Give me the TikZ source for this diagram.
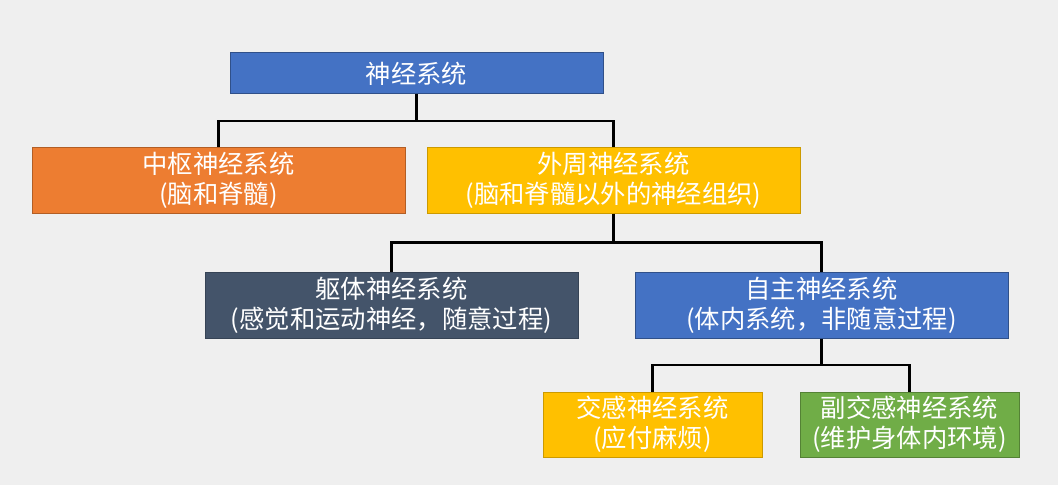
\documentclass[tikz,border=0pt]{standalone}
\usepackage{fontspec}
\setmainfont{Noto Sans CJK SC}
\usepackage{tikz}
\usetikzlibrary{positioning,calc}
\definecolor{paper}{HTML}{EFEFEF}
\definecolor{bl}{HTML}{4472C4}
\definecolor{or}{HTML}{ED7D31}
\definecolor{ye}{HTML}{FFC000}
\definecolor{sl}{HTML}{44546A}
\definecolor{gr}{HTML}{70AD47}
\tikzset{
  box/.style={draw, line width=0.75pt, align=center, inner sep=0pt, text=white, font=\fontsize{19}{22.5}\selectfont, minimum height=48.75pt},
  wide/.style={box, minimum width=279.75pt},
  narrow/.style={box, minimum width=164.25pt},
  link/.style={line width=1.6pt, black},
}

\begin{document}
\begin{tikzpicture}[x=0.75pt, y=-0.75pt]
  % page, in pixels of the slide
  \fill[paper] (0,0) rectangle (1058,485);
  \useasboundingbox (0,0) rectangle (1058,485);

  \node[wide, fill=bl, draw=bl!70!black, minimum height=30.75pt] (ns) at (416.5,73.5) {神经系统};
  \node[wide, fill=or, draw=or!75!black] (cns) at (218.5,180.5) {中枢神经系统\\(脑和脊髓)};
  \node[wide, fill=ye, draw=ye!80!black] (pns) at (613.5,180.5) {外周神经系统\\(脑和脊髓以外的神经组织)};
  \node[wide, fill=sl, draw=sl!80!black, minimum height=49.5pt] (som) at (391.5,305) {躯体神经系统\\(感觉和运动神经，随意过程)};
  \node[wide, fill=bl, draw=bl!70!black, minimum height=49.5pt] (aut) at (821.5,305) {自主神经系统\\(体内系统，非随意过程)};
  \node[narrow, fill=ye, draw=ye!80!black] (sym) at (652.5,424.5) {交感神经系统\\(应付麻烦)};
  \node[narrow, fill=gr, draw=gr!75!black] (para) at (909.5,424.5) {副交感神经系统\\(维护身体内环境)};

  % tree links
  \draw[link] (ns.south) -- ($(ns.south)!.5!(ns.south |- cns.north)$) coordinate (j1) -| (cns.north);
  \draw[link] (j1) -| (pns.north);
  \draw[link] (pns.south) -- ($(pns.south)!.5!(pns.south |- som.north)$) coordinate (j2) -| (som.north);
  \draw[link] (j2) -| (aut.north);
  \draw[link] (aut.south) -- ($(aut.south)!.5!(aut.south |- sym.north)$) coordinate (j3) -| (sym.north);
  \draw[link] (j3) -| (para.north);
\end{tikzpicture}
\end{document}
